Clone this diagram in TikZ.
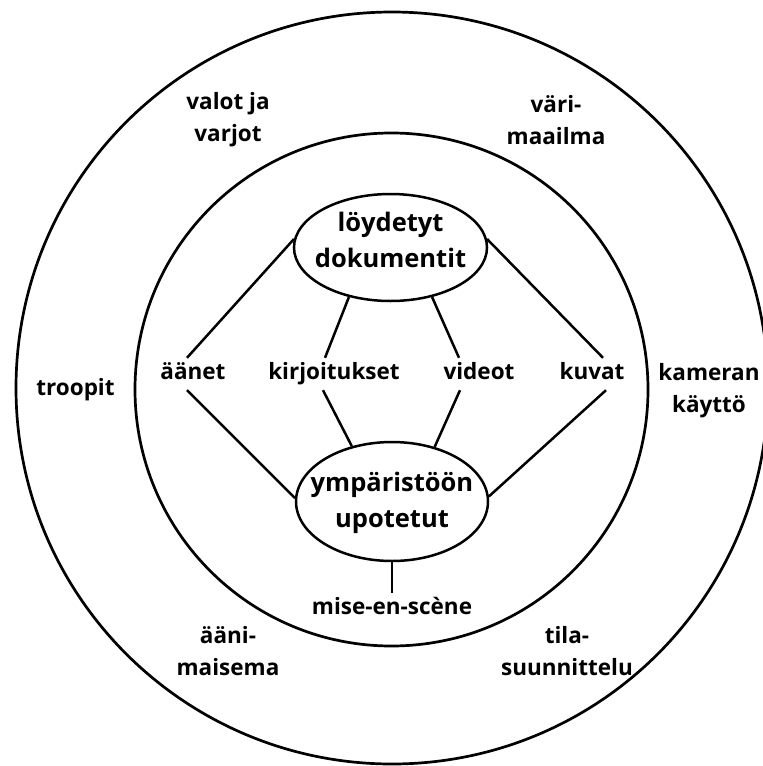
\documentclass[tikz,border=0pt]{standalone}
\usepackage{fontspec}
\setmainfont{Open Sans}
\usetikzlibrary{shapes.geometric}

\tikzset{
    ring/.style={black, line width=2.7pt},
    link/.style={black, line width=2.5pt},
    lbl/.style={font=\fontsize{22.5}{32}\selectfont\bfseries, align=center, inner sep=0pt},
    mid/.style={lbl, text height=16pt, text depth=5pt, minimum height=32pt},
    blob/.style={draw, ellipse, line width=2.5pt, inner sep=-20pt, align=center,
        font=\fontsize{25.5}{36}\selectfont\bfseries},
}

\begin{document}
\begin{tikzpicture}[x=1pt, y=-1pt]
        \useasboundingbox (0,0) rectangle (763,766);

        \draw[ring] (392,388) circle (376pt);
        \draw[ring] (391.5,389.5) circle (256.5pt);

        \node[blob, minimum width=193pt, minimum height=107pt, text depth=16pt] (dok) at (390.5,247.5) {löydetyt\\dokumentit};
        \node[blob, minimum width=192pt, minimum height=119pt, text depth=3pt] (upo) at (392,501.5) {ympäristöön\\upotetut};

        \node[mid] (aanet) at (193,374) {äänet};
        \node[mid] (kirj) at (334,374) {kirjoitukset};
        \node[mid] (vid) at (479,374) {videot};
        \node[mid] (kuv) at (592,374) {kuvat};
        \node[mid] (mise) at (392,609) {mise-en-scène};

        \node[lbl] (valot) at (228,120) {valot ja\\varjot};
        \node[lbl] (vari) at (556,120) {väri-\\maailma};
        \node[lbl] (troop) at (75.5,390) {troopit};
        \node[lbl] (kam) at (709,391) {kameran\\käyttö};
        \node[lbl] (aani) at (228,651) {ääni-\\maisema};
        \node[lbl] (tila) at (567,651) {tila-\\suunnittelu};

        \draw[link] (dok.175) -- ([xshift=-6pt]aanet.north);
        \draw[link] ([xshift=-6pt]aanet.south) -- (upo.178);
        \draw[link] (dok.230) -- ([xshift=-9pt]kirj.north);
        \draw[link] ([xshift=-11pt]kirj.south) -- (upo.126);
        \draw[link] (dok.310) -- ([xshift=-20pt]vid.north);
        \draw[link] ([xshift=-19pt]vid.south) -- (upo.52);
        \draw[link] (dok.5) -- ([xshift=11pt]kuv.north);
        \draw[link] ([xshift=14pt]kuv.south) -- (upo.3);
        \draw[link] (upo.south) -- (mise.north);
    \end{tikzpicture}
\end{document}
